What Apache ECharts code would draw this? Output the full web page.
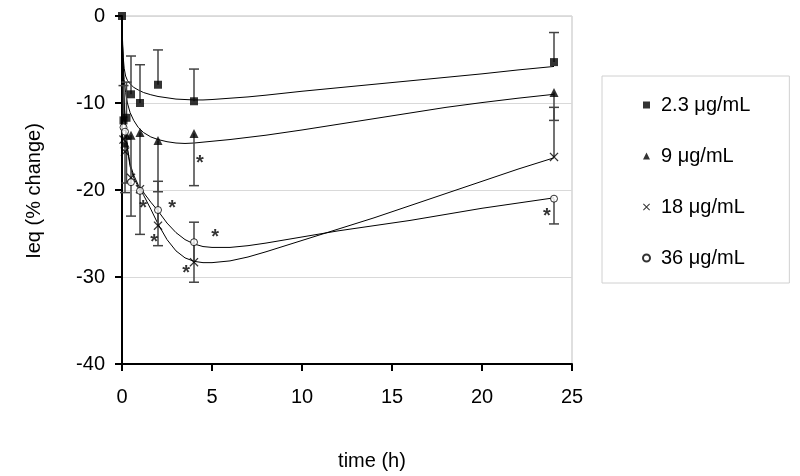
<!DOCTYPE html>
<html>
<head>
<meta charset="utf-8">
<script src="https://cdn.jsdelivr.net/npm/echarts@6/dist/echarts.min.js"></script>
<style>
html,body{margin:0;padding:0;background:#fff;}
#chart{width:800px;height:476px;}
</style>
</head>
<body>
<div id="chart"></div>
<script>
// ---- data ----
const seriesNames = ['2.3 μg/mL', '9 μg/mL', '18 μg/mL', '36 μg/mL'];
const xTicks = [0, 5, 10, 15, 20, 25];
const yTicks = [-40, -30, -20, -10, 0];

// measured points (time h, % change) and one-sided error bar ends
const sqT   = [0, 0.083, 0.25, 0.5, 1, 2, 4, 24];
const sqV   = [0, -12.0, -11.7, -9.0, -10.0, -7.9, -9.8, -5.3];
const sqErr = [null, -8.0, -7.6, -4.6, -5.6, -3.9, -6.1, -1.9];

const triT   = [0.167, 0.25, 0.5, 1, 2, 4, 24];
const triV   = [-14.6, -13.7, -13.7, -13.4, -14.3, -13.5, -8.8];
const triErr = [-20.3, -19.2, -23.0, -25.1, -20.2, -19.5, -12.0];

const crT   = [0.083, 0.167, 0.5, 1, 2, 4, 24];
const crV   = [-14.2, -15.6, -18.6, -19.9, -24.1, -28.3, -16.2];
const crErr = [null, null, null, null, -19.0, -23.7, -10.5];

const ciT   = [0.083, 0.167, 0.5, 1, 2, 4, 24];
const ciV   = [-12.8, -13.3, -19.1, -20.1, -22.3, -26.0, -21.0];
const ciErr = [null, null, null, null, -26.4, -30.6, -23.9];

// fitted curves
const curveT   = [0, 0.03, 0.07, 0.12, 0.2, 0.3, 0.45, 0.65, 0.9, 1.2, 1.6, 2, 2.5, 3, 3.5, 4, 4.5, 5, 6, 7, 8, 10, 12, 14, 16, 18, 20, 22, 24];
const sqCurveV = [0, -2.8, -4.8, -6.0, -6.9, -7.4, -7.8, -8.2, -8.5, -8.8, -9.05, -9.25, -9.4, -9.55, -9.6, -9.65, -9.65, -9.6, -9.45, -9.3, -9.1, -8.65, -8.25, -7.85, -7.45, -7.05, -6.65, -6.2, -5.8];
const triCurveV = [0, -3.5, -5.7, -7.3, -8.8, -10.0, -11.1, -12.0, -12.8, -13.4, -13.9, -14.2, -14.45, -14.6, -14.65, -14.6, -14.5, -14.4, -14.2, -13.95, -13.7, -13.1, -12.45, -11.8, -11.15, -10.5, -9.95, -9.45, -9.0];
const crCurveV = [0, -3.5, -7, -10, -13, -15.3, -17.3, -18.6, -19.6, -20.6, -22.2, -23.9, -25.7, -27.0, -27.8, -28.2, -28.35, -28.35, -28.15, -27.7, -27.1, -25.8, -24.5, -23.2, -21.8, -20.4, -19.0, -17.6, -16.3];
const ciCurveV = [0, -3.5, -7, -10, -13, -15.2, -17.0, -18.3, -19.4, -20.3, -21.4, -22.4, -23.8, -24.9, -25.7, -26.2, -26.5, -26.6, -26.6, -26.4, -26.1, -25.4, -24.7, -24.1, -23.5, -22.8, -22.1, -21.5, -20.9];

// significance asterisks
const starT = [4.33, 1.17, 2.78, 1.78, 5.17, 3.56, 23.6];
const starV = [-16.4, -21.6, -21.6, -25.5, -24.9, -29.0, -22.5];

// ---- build ----
const zip = (a, b) => a.map((v, i) => [v, b[i]]);
const errData = (t, v, e) => t.map((x, i) => [x, v[i], e[i]]).filter(d => d[2] !== null);
const FONT = "'Liberation Sans', Arial, sans-serif";
const crossPath = 'path://M1,0 L5,4 L9,0 L10,1 L6,5 L10,9 L9,10 L5,6 L1,10 L0,9 L4,5 L0,1 Z';

function curve(t, v) {
  return { type: 'line', data: zip(t, v), showSymbol: false, symbol: 'none', smooth: false,
           lineStyle: { color: '#000', width: 1 }, silent: true, z: 2 };
}
function errBars(t, v, e) {
  return {
    type: 'custom', data: errData(t, v, e), silent: true, z: 3,
    renderItem: function (params, api) {
      const x = api.value(0);
      const p0 = api.coord([x, api.value(1)]);
      const p1 = api.coord([x, api.value(2)]);
      const st = { stroke: '#444', lineWidth: 1.5 };
      return { type: 'group', children: [
        { type: 'line', shape: { x1: p0[0], y1: p0[1], x2: p1[0], y2: p1[1] }, style: st },
        { type: 'line', shape: { x1: p1[0] - 5, y1: p1[1], x2: p1[0] + 5, y2: p1[1] }, style: st }
      ]};
    }
  };
}

const chart = echarts.init(document.getElementById('chart'));
chart.setOption({
  animation: false,
  backgroundColor: '#fff',
  grid: { left: 122, right: 228, top: 16, bottom: 112, show: true, borderColor: '#bfbfbf', borderWidth: 1 },
  xAxis: {
    type: 'value', min: xTicks[0], max: xTicks[xTicks.length - 1], interval: 5,
    axisLine: { onZero: false, lineStyle: { color: '#000', width: 2 } },
    axisTick: { length: 7, lineStyle: { color: '#000', width: 2 } },
    axisLabel: { margin: 23, fontSize: 20, color: '#000', fontFamily: FONT },
    splitLine: { show: false }
  },
  yAxis: {
    type: 'value', min: yTicks[0], max: yTicks[yTicks.length - 1], interval: 10,
    axisLine: { show: true, onZero: false, lineStyle: { color: '#000', width: 2 } },
    axisTick: { show: true, length: 7, lineStyle: { color: '#000', width: 2 } },
    axisLabel: { margin: 17, fontSize: 20, color: '#000', fontFamily: FONT },
    splitLine: { show: true, lineStyle: { color: '#d9d9d9', width: 1 } }
  },
  legend: {
    data: seriesNames, orient: 'vertical', left: 602, top: 76,
    padding: [19, 39, 15, 40], itemGap: 31, itemWidth: 7, itemHeight: 7,
    borderColor: '#d0d0d0', borderWidth: 1,
    textStyle: { fontSize: 20, color: '#000', fontFamily: FONT, padding: [0, 0, 0, 6] }
  },
  graphic: [
    { type: 'text', x: 34, y: 191, rotation: Math.PI / 2,
      style: { text: 'Ieq (% change)', font: '20px ' + FONT, fill: '#000', textAlign: 'center', textVerticalAlign: 'middle' } },
    { type: 'text', x: 372, y: 461,
      style: { text: 'time (h)', font: '20px ' + FONT, fill: '#000', textAlign: 'center', textVerticalAlign: 'middle' } }
  ],
  series: [
    curve(curveT, sqCurveV),
    curve(curveT, triCurveV),
    curve(curveT, crCurveV),
    curve(curveT, ciCurveV),
    errBars(sqT, sqV, sqErr),
    errBars(triT, triV, triErr),
    errBars(crT, crV, crErr),
    errBars(ciT, ciV, ciErr),
    { name: seriesNames[0], type: 'scatter', data: zip(sqT, sqV), symbol: 'rect', symbolSize: 8,
      itemStyle: { color: '#000' }, z: 5 },
    { name: seriesNames[1], type: 'scatter', data: zip(triT, triV), symbol: 'triangle', symbolSize: [9, 9],
      itemStyle: { color: '#000' }, z: 5 },
    { name: seriesNames[2], type: 'scatter', data: zip(crT, crV), symbol: crossPath, symbolSize: 9,
      itemStyle: { color: '#000' }, z: 5 },
    { name: seriesNames[3], type: 'scatter', data: zip(ciT, ciV), symbol: 'circle', symbolSize: 7,
      itemStyle: { color: '#fff', borderColor: '#000', borderWidth: 1 }, z: 5 },
    { type: 'scatter', data: zip(starT, starV), symbol: 'circle', symbolSize: 1, silent: true, z: 6,
      itemStyle: { color: 'rgba(0,0,0,0)' },
      label: { show: true, position: 'inside', formatter: '*', fontSize: 20, fontWeight: 'bold', color: '#000', fontFamily: FONT, offset: [0, 5] } }
  ]
});
</script>
</body>
</html>
